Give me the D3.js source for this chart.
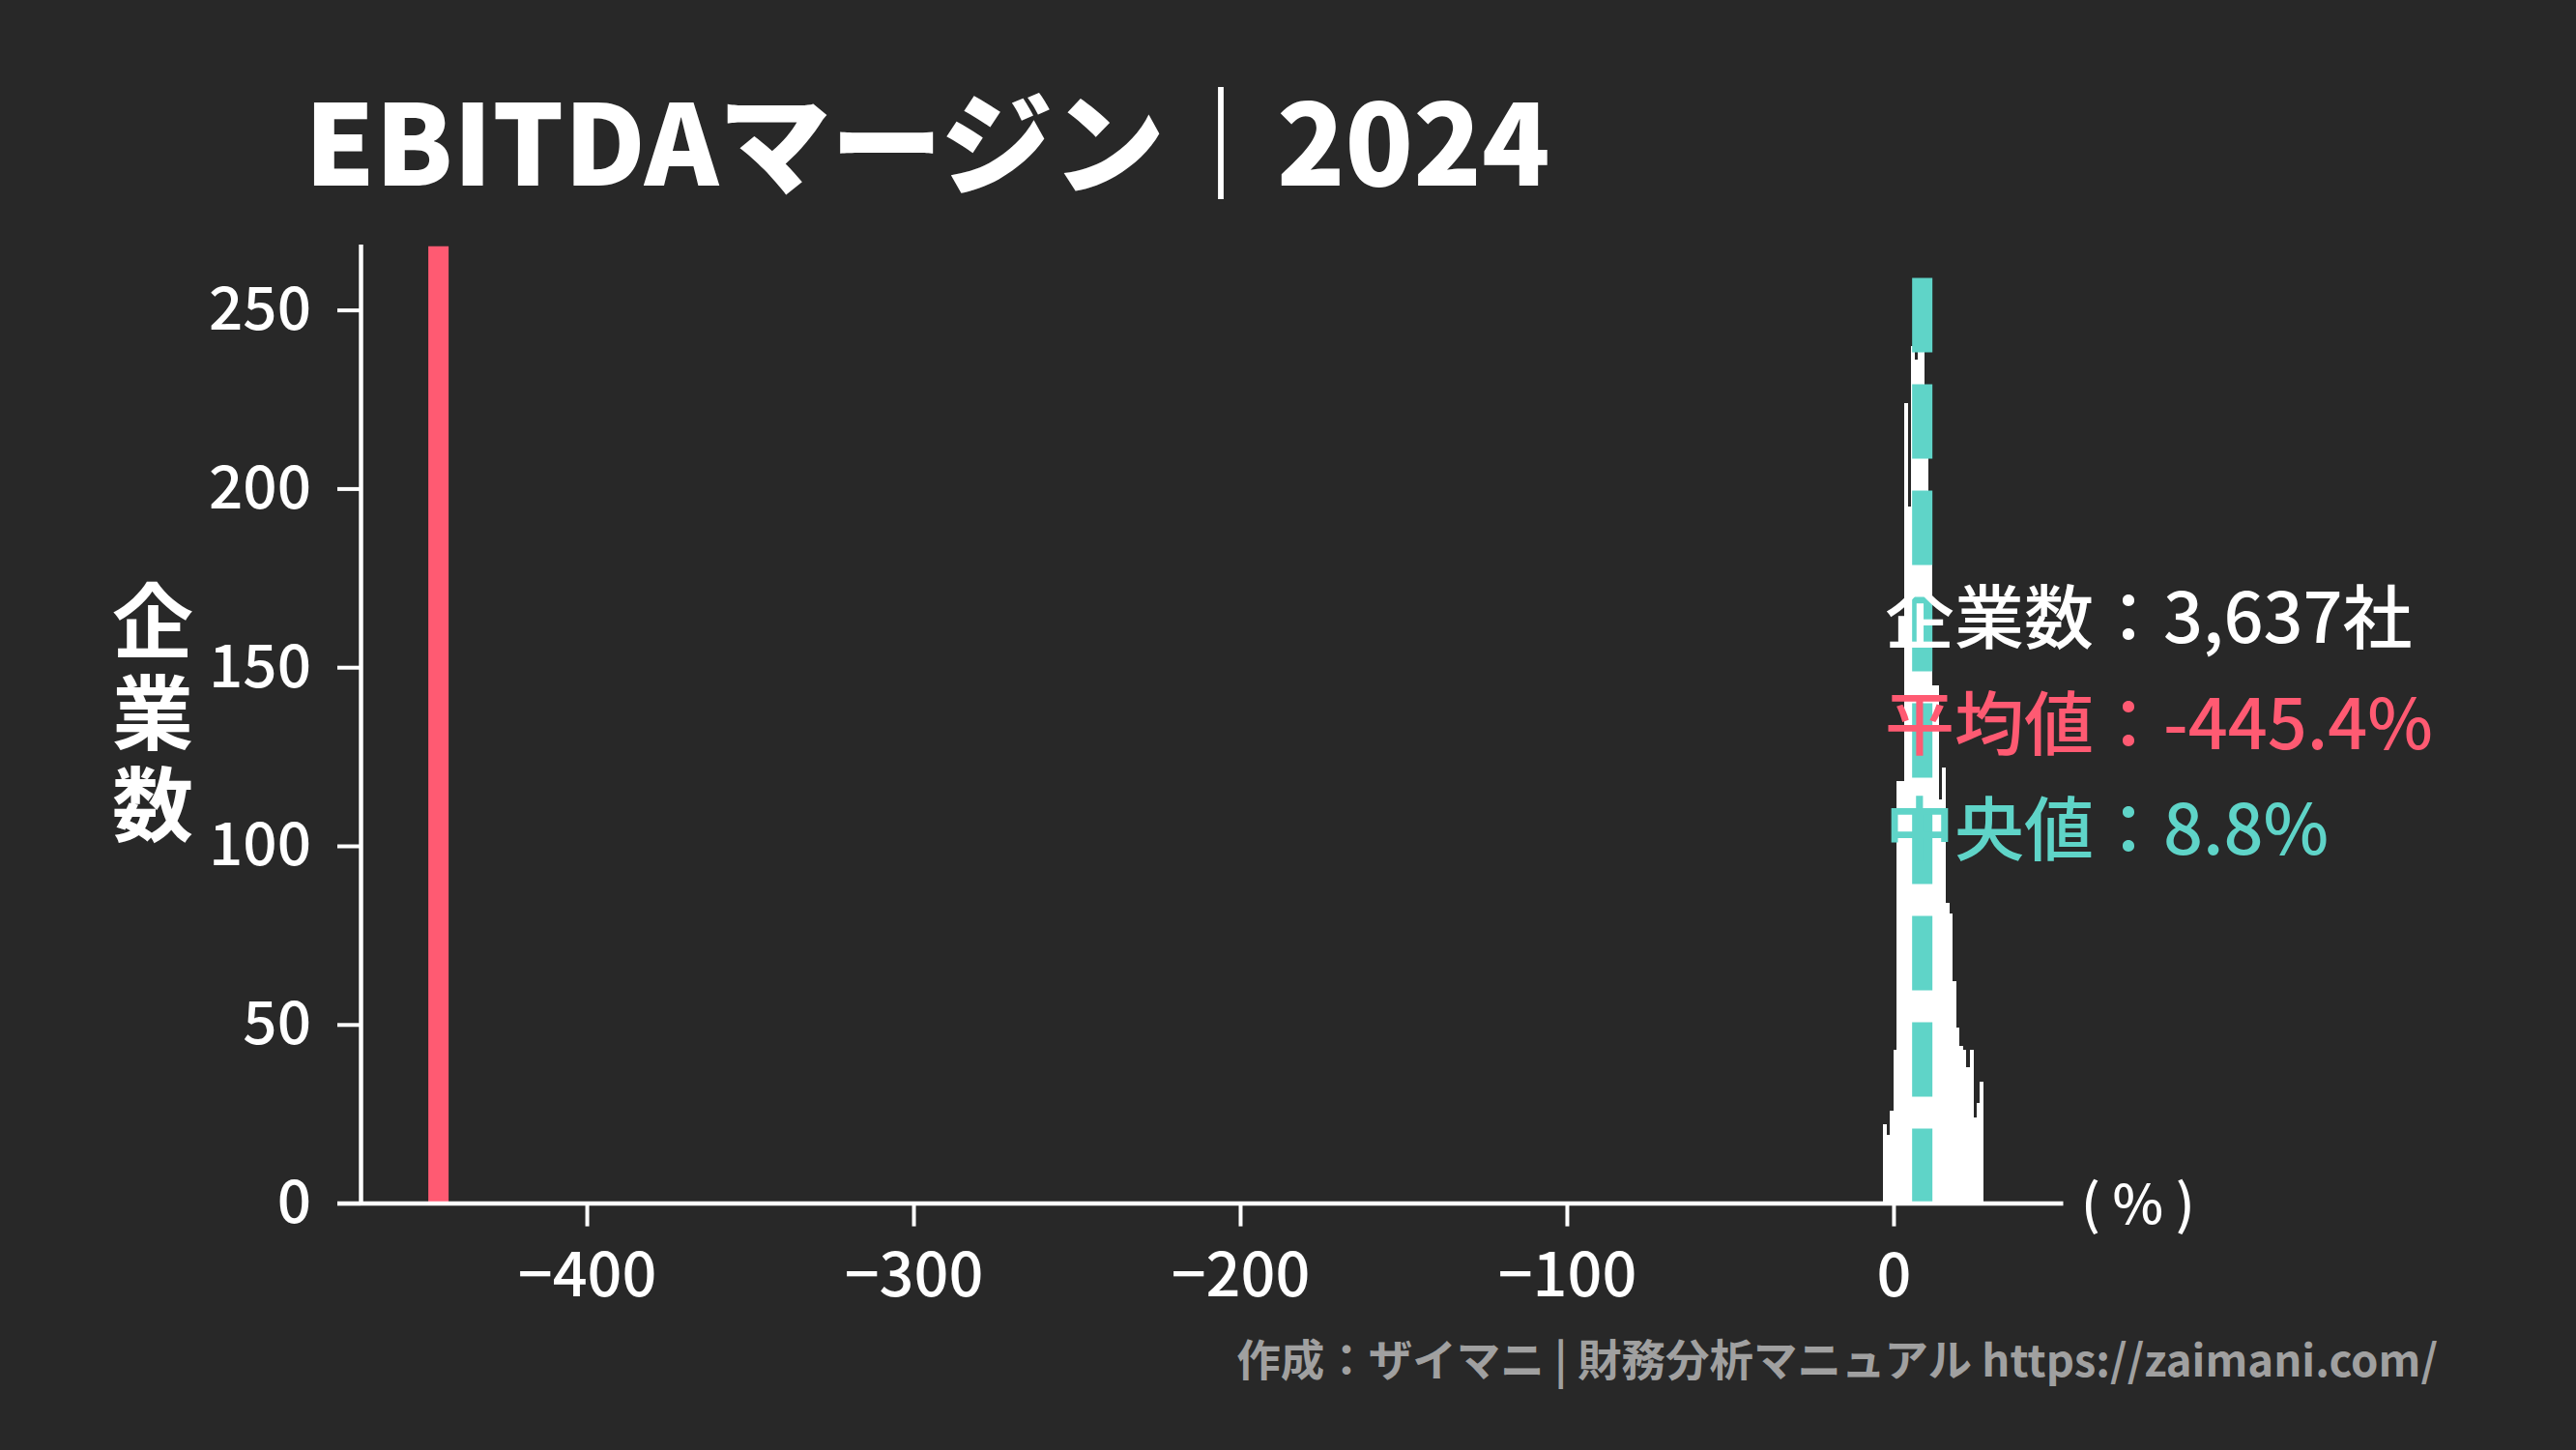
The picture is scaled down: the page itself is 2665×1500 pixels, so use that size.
<!DOCTYPE html>
<html>
<head>
<meta charset="utf-8">
<script src="https://cdn.jsdelivr.net/npm/d3@7"></script>
<style>
  html, body { margin: 0; padding: 0; background: #282828; }
  svg { display: block; }
  text { font-family: "Noto Sans CJK JP", "Noto Sans", sans-serif; }
</style>
</head>
<body>
<svg id="chart" width="2665" height="1500"></svg>
<script>
// ---------- data ----------
const titleText = "EBITDAマージン｜2024";
const yLabelText = "企業数";
const binEdges = [-3.22, -2.16, -1.10, -0.04, 1.02, 2.08, 3.14, 4.20, 5.26, 6.32,
                  7.38, 8.44, 9.50, 10.56, 11.62, 12.68, 13.74, 14.80, 15.86, 16.92,
                  17.98, 19.04, 20.10, 21.16, 22.22, 23.28, 24.34, 25.40, 26.46, 27.52];
const binCounts = [22, 19, 26, 43, 118, 118, 224, 195, 240, 236,
                   256, 248, 220, 190, 145, 145, 113, 122, 84, 81,
                   62, 49, 44, 43, 38, 43, 24, 28, 34];
const meanValue = -445.4;
const medianValue = 8.8;
const companyCount = "3,637";
const xTicks = [-400, -300, -200, -100, 0];
const yTicks = [0, 50, 100, 150, 200, 250];
const xDomain = [-476.5, 51.8];
const yDomain = [0, 268.4];
const meanLineTop = 267.8;
const medianLineTop = 259.7;
const infoLines = [
  { label: "企業数：" + companyCount + "社", color: "#ffffff" },
  { label: "平均値：" + meanValue.toFixed(1) + "%", color: "#ff5a72" },
  { label: "中央値：" + medianValue.toFixed(1) + "%", color: "#5fd4c8" }
];
const footerText = "作成：ザイマニ | 財務分析マニュアル https://zaimani.com/";
const unitText = "( % )";

// ---------- layout ----------
const W = 2665, H = 1500;
const plotLeft = 348.5, plotRight = 2134, plotTop = 252.6, plotBottom = 1244.6;
const ySpineX = 373;
const meanColor = "#ff5a72", medianColor = "#5fd4c8";

const svg = d3.select("#chart");
svg.append("rect").attr("width", W).attr("height", H).attr("fill", "#282828");

const x = d3.scaleLinear().domain(xDomain).range([plotLeft, plotRight]);
const y = d3.scaleLinear().domain(yDomain).range([plotBottom, plotTop]);

// histogram bars
const bins = binCounts.map((c, i) => ({ x0: binEdges[i], x1: binEdges[i + 1], c }));
svg.append("g").selectAll("rect").data(bins).join("rect")
  .attr("x", d => x(d.x0))
  .attr("width", d => x(d.x1) - x(d.x0) + 0.4)
  .attr("y", d => y(d.c))
  .attr("height", d => y(0) - y(d.c))
  .attr("fill", "#ffffff")
  .attr("shape-rendering", "crispEdges");

// mean line
svg.append("line")
  .attr("x1", x(meanValue)).attr("x2", x(meanValue))
  .attr("y1", y(0)).attr("y2", y(meanLineTop))
  .attr("stroke", meanColor).attr("stroke-width", 21);

// median dashed line (dash pattern starts at bottom)
svg.append("line")
  .attr("x1", x(medianValue)).attr("x2", x(medianValue))
  .attr("y1", y(0)).attr("y2", y(medianLineTop))
  .attr("stroke", medianColor).attr("stroke-width", 21)
  .attr("stroke-dasharray", "77 33");

// x axis
const xAxis = d3.axisBottom(x).tickValues(xTicks)
  .tickFormat(d => d < 0 ? "\u2212" + Math.abs(d) : String(d))
  .tickSize(24).tickSizeOuter(0).tickPadding(28);
const gx = svg.append("g").attr("transform", `translate(0,${plotBottom})`).call(xAxis);
gx.select(".domain").attr("stroke", "#ffffff").attr("stroke-width", 4.5);
gx.selectAll(".tick line").attr("stroke", "#ffffff").attr("stroke-width", 4);
gx.selectAll(".tick text").attr("fill", "#ffffff")
  .style("font-size", "63px").style("font-weight", 500)
  .style("font-family", "\"Noto Sans CJK JP\", sans-serif");

// y axis
const yAxis = d3.axisLeft(y).tickValues(yTicks).tickFormat(d3.format("d"))
  .tickSize(24).tickSizeOuter(0).tickPadding(27);
const gy = svg.append("g").attr("transform", `translate(${ySpineX},0)`).call(yAxis);
gy.select(".domain").attr("stroke", "#ffffff").attr("stroke-width", 4.5);
gy.selectAll(".tick line").attr("stroke", "#ffffff").attr("stroke-width", 4);
gy.selectAll(".tick text").attr("fill", "#ffffff")
  .style("font-size", "62px").style("font-weight", 500)
  .style("font-family", "\"Noto Sans CJK JP\", sans-serif");

// unit label
svg.append("text")
  .attr("x", 2153).attr("y", 1266)
  .attr("fill", "#ffffff")
  .style("font-size", "56px").style("font-weight", 500)
  .text(unitText);

// y label (vertical writing, single text element)
svg.append("text")
  .attr("x", 158).attr("y", 600)
  .attr("fill", "#ffffff")
  .style("writing-mode", "vertical-rl")
  .style("font-size", "84px").style("font-weight", 700)
  .style("letter-spacing", "11px")
  .text(yLabelText);

// title
svg.append("text")
  .attr("x", 315).attr("y", 192)
  .attr("fill", "#ffffff")
  .style("font-size", "116px").style("font-weight", 900)
  .text(titleText);

// info text
svg.append("g").selectAll("text").data(infoLines).join("text")
  .attr("x", 1950)
  .attr("y", (d, i) => 665 + i * 109.5)
  .attr("fill", d => d.color)
  .style("font-size", "72px").style("font-weight", 500)
  .text(d => d.label);

// footer
svg.append("text")
  .attr("x", 2522).attr("y", 1424)
  .attr("text-anchor", "end")
  .attr("fill", "#a0a0a0")
  .style("font-size", "45.5px").style("font-weight", 700)
  .text(footerText);
</script>
</body>
</html>
